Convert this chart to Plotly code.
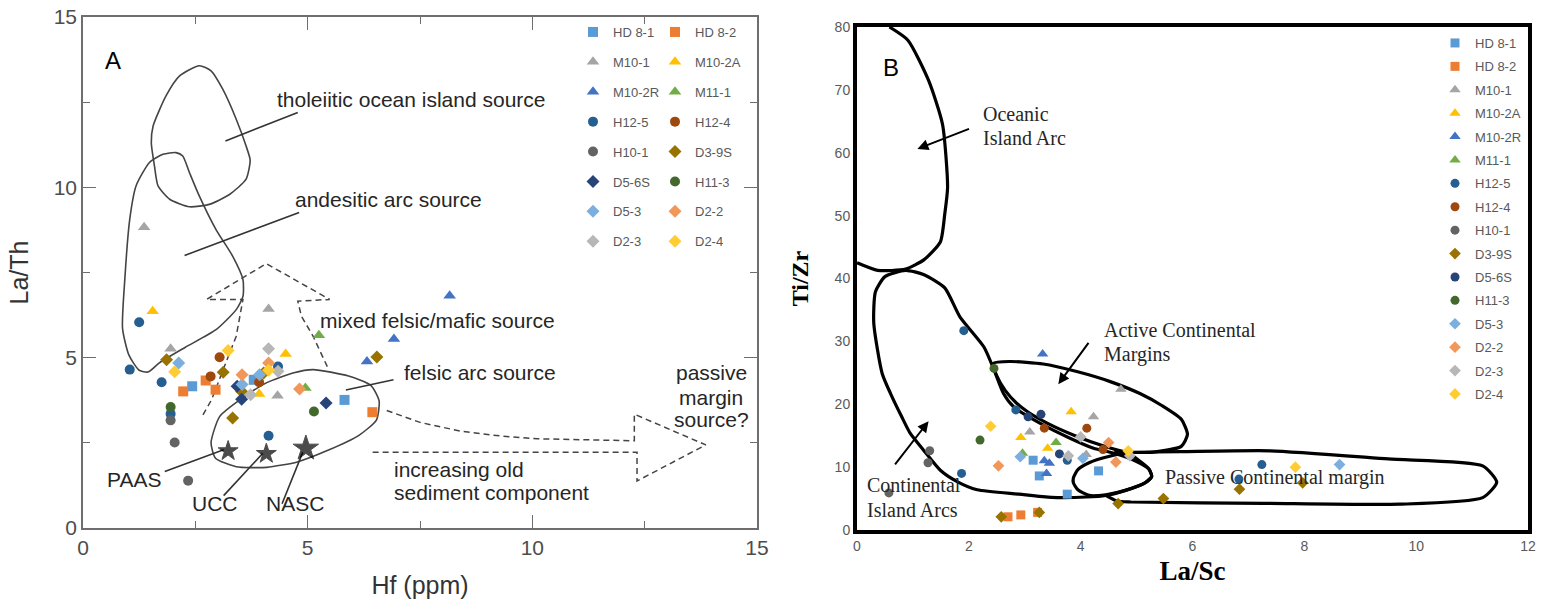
import plotly.graph_objects as go

W, H = 1549, 599

# ---- sample series (shared by both diagrams) ----
SERIES = ["HD 8-1", "HD 8-2", "M10-1", "M10-2A", "M10-2R", "M11-1", "H12-5", "H12-4",
          "H10-1", "D3-9S", "D5-6S", "H11-3", "D5-3", "D2-2", "D2-3", "D2-4"]
COLORS = ["#5B9BD5", "#ED7D31", "#A5A5A5", "#FFC000", "#4472C4", "#70AD47", "#255E91", "#9E480E",
          "#636363", "#997300", "#264478", "#43682B", "#7CAFDD", "#F1975A", "#B7B7B7", "#FFCD33"]
SYMBOLS_A = ["square", "square", "triangle-up", "triangle-up", "triangle-up", "triangle-up",
             "circle", "circle", "circle", "diamond", "diamond", "circle",
             "diamond", "diamond", "diamond", "diamond"]
SYMBOLS_B = ["square", "square", "triangle-up", "triangle-up", "triangle-up", "triangle-up",
             "circle", "circle", "circle", "diamond", "circle", "circle",
             "diamond", "diamond", "diamond", "diamond"]

# ---- diagram A: Hf (ppm) vs La/Th ----
a_sample = ["HD 8-1"] * 3 + ["HD 8-2"] * 4 + ["M10-1"] * 4 + ["M10-2A"] * 3 + ["M10-2R"] * 3 + \
           ["M11-1"] * 2 + ["H12-5"] * 6 + ["H12-4"] * 3 + ["H10-1"] * 3 + ["D3-9S"] * 6 + \
           ["D5-6S"] * 3 + ["H11-3"] * 2 + ["D5-3"] * 3 + ["D2-2"] * 3 + ["D2-3"] * 3 + ["D2-4"] * 3
a_hf = [2.43, 3.80, 5.82,
        2.23, 2.73, 2.95, 6.44,
        1.36, 1.95, 4.13, 4.33,
        1.55, 4.51, 3.92,
        8.16, 6.92, 6.32,
        5.25, 4.95,
        1.25, 1.04, 1.75, 1.95, 4.13, 4.34,
        3.04, 2.84, 3.92,
        1.95, 2.04, 2.34,
        1.86, 3.12, 4.02, 3.53, 3.33, 6.54,
        3.43, 3.53, 5.41,
        1.95, 5.14,
        2.13, 3.93, 3.54,
        4.13, 3.54, 4.82,
        4.13, 4.34, 3.73,
        2.04, 3.23, 4.13]
a_la_th = [4.16, 4.35, 3.76,
           4.01, 4.33, 4.06, 3.40,
           8.83, 5.26, 6.43, 3.88,
           6.36, 5.11, 3.93,
           6.82, 5.55, 4.89,
           5.66, 4.11,
           6.04, 4.65, 4.28, 3.35, 2.71, 4.74,
           5.01, 4.45, 4.28,
           3.16, 2.51, 1.39,
           4.94, 4.57, 4.55, 4.01, 3.23, 5.02,
           4.16, 3.78, 3.67,
           3.55, 3.42,
           4.84, 4.50, 4.21,
           4.84, 4.50, 4.08,
           5.26, 4.60, 3.91,
           4.59, 5.21, 4.63]

# reference compositions
ref_names = ["PAAS", "UCC", "NASC"]
ref_hf = [3.23, 4.08, 4.96]
ref_la_th = [2.26, 2.18, 2.34]

# source fields of diagram A
tholeiitic_hf = [2.59, 2.85, 3.11, 3.41, 3.63, 3.72, 3.63, 3.26, 2.81, 2.37, 1.93, 1.67, 1.59, 1.52, 1.56, 1.85, 2.15, 2.59]
tholeiitic_la_th = [13.57, 13.42, 12.88, 12.0, 11.21, 10.8, 10.24, 9.79, 9.5, 9.43, 9.65, 10.04, 10.63, 11.31, 11.8, 12.69, 13.27, 13.57]
andesitic_hf = [2.07, 2.22, 2.37, 2.59, 2.96, 3.33, 3.56, 3.56, 3.41, 2.96, 2.27, 1.7, 1.45, 1.25, 1.02, 0.88, 0.93, 1.04, 1.18, 1.48, 1.78, 2.07]
andesitic_la_th = [11.02, 10.92, 10.43, 9.74, 8.76, 7.98, 7.29, 6.8, 6.41, 5.82, 5.3, 4.85, 4.58, 4.63, 5.08, 5.86, 7.29, 9.06, 10.04, 10.73, 10.97, 11.02]
felsic_hf = [5.12, 5.91, 6.41, 6.59, 6.53, 6.14, 5.45, 4.77, 4.09, 3.41, 2.95, 2.85, 3.04, 3.49, 4.08, 4.67, 5.12]
felsic_la_th = [4.65, 4.46, 4.18, 3.73, 3.17, 2.72, 2.28, 1.94, 1.78, 1.8, 2.05, 2.5, 3.27, 3.76, 4.26, 4.55, 4.65]
mixed_arrow_hf = [2.67, 2.86, 3.12, 3.41, 3.56, 2.75, 4.08, 5.49, 4.78, 4.86, 5.12, 5.45]
mixed_arrow_la_th = [3.32, 3.76, 4.65, 5.63, 6.71, 6.71, 7.76, 6.71, 6.66, 6.22, 5.63, 4.70]
old_arrow_hf = [6.76, 7.5, 8.41, 9.3, 10.11, 11.2, 12.27, 12.27, 13.86, 12.33, 12.33, 6.36]
old_arrow_la_th = [3.45, 3.1, 2.84, 2.7, 2.62, 2.58, 2.56, 3.34, 2.44, 1.38, 2.22, 2.22]

# leader lines of diagram A (start, end)
leader_hf = [[3.17, 4.78], [2.26, 4.81], [5.85, 6.91], [1.82, 3.13], [3.13, 4.0], [4.43, 4.89]]
leader_la_th = [[11.36, 12.2], [8.0, 9.26], [4.05, 4.35], [1.66, 2.30], [0.95, 2.19], [0.71, 2.22]]

# ---- diagram B: La/Sc vs Ti/Zr ----
b_sample = ["HD 8-1"] * 4 + ["HD 8-2"] * 3 + ["M10-1"] * 4 + ["M10-2A"] * 3 + ["M10-2R"] * 4 + \
           ["M11-1"] * 2 + ["H12-5"] * 6 + ["H12-4"] * 3 + ["H10-1"] * 3 + ["D3-9S"] * 6 + \
           ["D5-6S"] * 3 + ["H11-3"] * 2 + ["D5-3"] * 3 + ["D2-2"] * 3 + ["D2-3"] * 3 + ["D2-4"] * 3
b_la_sc = [3.15, 3.26, 3.76, 4.32,
           2.70, 2.93, 3.23,
           4.72, 4.23, 3.09, 4.10,
           3.83, 2.93, 3.41,
           3.32, 3.35, 3.44, 3.39,
           3.56, 2.96,
           1.91, 2.84, 1.87, 3.76, 7.24, 6.83,
           3.35, 4.11, 4.40,
           1.30, 1.27, 0.57,
           2.58, 3.26, 4.67, 5.48, 6.84, 7.97,
           3.06, 3.29, 3.62,
           2.45, 2.20,
           2.92, 4.04, 8.63,
           2.53, 4.50, 4.63,
           4.00, 3.78, 4.88,
           2.39, 4.85, 7.84]
b_ti_zr = [11.1, 8.6, 5.7, 9.4,
           2.1, 2.4, 2.8,
           22.4, 18.0, 15.6, 12.0,
           18.8, 14.7, 13.0,
           28.0, 11.0, 10.6, 9.0,
           13.9, 12.2,
           31.7, 19.1, 9.0, 11.1, 10.4, 8.1,
           16.2, 16.2, 12.8,
           12.6, 10.7, 5.9,
           2.1, 2.8, 4.2, 5.0, 6.5, 7.5,
           18.0, 18.4, 12.1,
           25.7, 14.3,
           11.65, 11.4, 10.4,
           10.2, 13.9, 10.8,
           14.8, 11.8, 11.8,
           16.5, 12.6, 10.0]

# tectonic-setting fields of diagram B
oia_la_sc = [0.58, 0.91, 1.28, 1.53, 1.62, 1.57, 1.49, 1.20, 0.87, 0.37, 0.0]
oia_ti_zr = [80.0, 77.9, 71.5, 64.5, 54.5, 50.3, 45.8, 43.0, 41.5, 41.3, 42.5]
cia_la_sc = [0.33, 0.50, 0.87, 1.20, 1.57, 1.84, 2.27, 2.44, 2.62, 2.80, 3.27, 3.81, 4.23, 4.6, 5.0, 5.22,
             5.27, 5.15, 4.8, 4.45, 4.1, 3.48, 2.9, 2.15, 1.79, 1.49, 1.19, 0.95, 0.80, 0.60, 0.45, 0.30, 0.33]
cia_ti_zr = [37.9, 40.3, 41.3, 40.6, 38.5, 33.9, 29.1, 25.7, 21.7, 19.6, 17.0, 14.6, 13.0, 12.2, 10.9, 9.7,
             8.5, 7.5, 6.3, 5.5, 5.25, 5.2, 5.7, 6.4, 7.7, 9.5, 12.7, 15.4, 18.0, 21.7, 24.9, 32.9, 37.9]
acm_la_sc = [2.44, 2.74, 3.33, 3.93, 4.53, 5.06, 5.45, 5.80, 5.91, 5.80, 5.30, 4.81, 4.4, 3.9, 3.4, 3.05, 2.85, 2.65, 2.5, 2.44]
acm_ti_zr = [26.5, 26.8, 26.4, 25.2, 23.6, 21.7, 19.8, 17.6, 15.2, 13.3, 12.4, 12.4, 13.4, 15.0, 17.0, 18.8, 20.2, 22.2, 24.5, 26.5]
loop_la_sc = [3.87, 3.95, 4.15, 4.5, 4.85, 5.05, 5.22, 5.27, 5.15, 4.8, 4.45, 4.15, 3.95, 3.87, 3.87]
loop_ti_zr = [8.3, 9.6, 10.7, 11.7, 12.2, 11.0, 9.7, 8.5, 7.5, 6.3, 5.6, 5.5, 6.4, 7.5, 8.3]
pm_la_sc = [4.45, 4.65, 4.9, 7.27, 9.70, 11.19, 11.44, 11.19, 9.5, 7.39, 5.78, 4.88, 4.6]
pm_ti_zr = [5.5, 4.6, 4.45, 4.24, 4.1, 5.15, 7.6, 10.2, 11.3, 12.6, 12.45, 12.35, 12.3]

SANS = "Liberation Sans"
SERIF = "Liberation Serif"
TXT = "#262626"

fig = go.Figure()


def field(x, y, xa, ya, color, width, dash="solid", shape="spline"):
    fig.add_trace(go.Scatter(x=x, y=y, xaxis=xa, yaxis=ya, mode="lines",
                             line=dict(color=color, width=width, dash=dash, shape=shape, smoothing=0.6),
                             showlegend=False, hoverinfo="skip"))


# fields and arrows of A
field(tholeiitic_hf, tholeiitic_la_th, "x", "y", "#444", 1.6)
field(andesitic_hf, andesitic_la_th, "x", "y", "#444", 1.6)
field(felsic_hf, felsic_la_th, "x", "y", "#444", 1.6)
field(mixed_arrow_hf, mixed_arrow_la_th, "x", "y", "#444", 1.5, dash="6px,4px", shape="linear")
field(old_arrow_hf, old_arrow_la_th, "x", "y", "#444", 1.5, dash="6px,4px", shape="linear")
for lx, ly in zip(leader_hf, leader_la_th):
    field(lx, ly, "x", "y", "#333", 1.6, shape="linear")

# fields of B
for fx, fy in [(oia_la_sc, oia_ti_zr), (cia_la_sc, cia_ti_zr), (acm_la_sc, acm_ti_zr),
               (loop_la_sc, loop_ti_zr), (pm_la_sc, pm_ti_zr)]:
    field(fx, fy, "x2", "y2", "black", 3.2)

SIZES = {"square": 10, "triangle-up": 11, "circle": 10, "diamond": 10}

# sample points of A (legend split in two columns)
for i, name in enumerate(SERIES):
    xs = [v for s, v in zip(a_sample, a_hf) if s == name]
    ys = [v for s, v in zip(a_sample, a_la_th) if s == name]
    fig.add_trace(go.Scatter(
        x=xs, y=ys, xaxis="x", yaxis="y", mode="markers", name=name,
        legend="legend" if i % 2 == 0 else "legend2", legendgroup="A" + name,
        marker=dict(symbol=SYMBOLS_A[i], color=COLORS[i], size=SIZES[SYMBOLS_A[i]], line=dict(width=0))))

fig.add_trace(go.Scatter(x=ref_hf, y=ref_la_th, xaxis="x", yaxis="y", mode="markers",
                         text=ref_names, showlegend=False,
                         marker=dict(symbol="star", color="black", size=[15, 15, 19],
                                     line=dict(color="black", width=1))))

# sample points of B
for i, name in enumerate(SERIES):
    xs = [v for s, v in zip(b_sample, b_la_sc) if s == name]
    ys = [v for s, v in zip(b_sample, b_ti_zr) if s == name]
    fig.add_trace(go.Scatter(
        x=xs, y=ys, xaxis="x2", yaxis="y2", mode="markers", name=name,
        legend="legend3", legendgroup="B" + name,
        marker=dict(symbol=SYMBOLS_B[i], color=COLORS[i], size=SIZES[SYMBOLS_B[i]] - 1, line=dict(width=0))))

ann = []


def label(text, x, y, xref, yref, size, family, xanchor="center", color=TXT):
    ann.append(dict(text=text, x=x, y=y, xref=xref, yref=yref, showarrow=False,
                    xanchor=xanchor, yanchor="middle", font=dict(size=size, family=family, color=color)))


label("A", 0.66, 13.71, "x", "y", 24, SANS, color="black")
label("tholeiitic ocean island source", 7.31, 12.59, "x", "y", 21, SANS)
label("andesitic arc source", 6.80, 9.65, "x", "y", 21, SANS)
label("mixed felsic/mafic source", 7.88, 6.10, "x", "y", 21, SANS)
label("felsic arc source", 8.84, 4.56, "x", "y", 21, SANS)
label("passive", 13.98, 4.56, "x", "y", 21, SANS)
label("margin", 13.98, 3.84, "x", "y", 21, SANS)
label("source?", 13.98, 3.18, "x", "y", 21, SANS)
label("increasing old", 6.88, 1.72, "x", "y", 21, SANS, xanchor="left")
label("sediment component", 6.88, 1.04, "x", "y", 21, SANS, xanchor="left")
label("PAAS", 1.13, 1.41, "x", "y", 21, SANS)
label("UCC", 2.93, 0.73, "x", "y", 21, SANS)
label("NASC", 4.71, 0.73, "x", "y", 21, SANS)

label("B", 0.60, 73.6, "x2", "y2", 24, SANS, color="black")
label("Oceanic", 2.22, 66.1, "x2", "y2", 20, SERIF, xanchor="left")
label("Island Arc", 2.22, 62.3, "x2", "y2", 20, SERIF, xanchor="left")
label("Active Continental", 4.38, 31.8, "x2", "y2", 20, SERIF, xanchor="left")
label("Margins", 4.38, 27.9, "x2", "y2", 20, SERIF, xanchor="left")
label("Continental", 0.15, 7.15, "x2", "y2", 20, SERIF, xanchor="left")
label("Island Arcs", 0.15, 3.2, "x2", "y2", 20, SERIF, xanchor="left")
label("Passive Continental margin", 5.47, 8.36, "x2", "y2", 20, SERIF, xanchor="left")

for (tx, ty, hx, hy) in [(2.03, 63.9, 1.08, 60.6), (4.16, 30.0, 3.60, 23.2), (0.66, 10.2, 1.28, 17.3)]:
    ann.append(dict(x=hx, y=hy, ax=tx, ay=ty, xref="x2", yref="y2", axref="x2", ayref="y2",
                    showarrow=True, arrowhead=2, arrowsize=1.1, arrowwidth=2, arrowcolor="black", text=""))

axA = dict(showline=True, linecolor="#6e6e6e", linewidth=1.5, mirror="ticks", ticks="inside",
           ticklen=13, tickwidth=1.3, tickcolor="#6e6e6e", showgrid=False, zeroline=False,
           automargin=False, tickfont=dict(size=21, family=SANS, color="#4d4d4d"),
           minor=dict(dtick=2.5, ticklen=7, ticks="inside", tickcolor="#6e6e6e", tickwidth=1.3))
axB = dict(showline=True, linecolor="black", linewidth=4, mirror=True, ticks="", showgrid=False,
           zeroline=False, automargin=False, tickfont=dict(size=14, family=SANS, color="#595959"))

legend_common = dict(xanchor="left", yanchor="top", bgcolor="rgba(0,0,0,0)",
                     font=dict(size=13, family=SANS, color="#595959"))

fig.update_layout(
    width=W, height=H, margin=dict(l=0, r=0, t=0, b=0, pad=0, autoexpand=False),
    paper_bgcolor="white", plot_bgcolor="white",
    xaxis=dict(domain=[83 / W, 757 / W], range=[0, 15], tick0=0, dtick=5, anchor="y",
               title=dict(text="Hf (ppm)", standoff=20, font=dict(size=25, family=SANS, color="#333")), **axA),
    yaxis=dict(domain=[(H - 528) / H, (H - 17) / H], range=[0, 15], tick0=0, dtick=5, anchor="x",
               title=dict(text="La/Th", standoff=18, font=dict(size=25, family=SANS, color="#333")), **axA),
    xaxis2=dict(domain=[857 / W, 1528 / W], range=[0, 12], dtick=2, anchor="y2",
                title=dict(text="<b>La/Sc</b>", standoff=9, font=dict(size=27, family=SERIF, color="black")), **axB),
    yaxis2=dict(domain=[(H - 530) / H, (H - 27) / H], range=[0, 80], dtick=10, anchor="x2",
                title=dict(text="<b>Ti/Zr</b>", standoff=20, font=dict(size=24, family=SERIF, color="black")), **axB),
    legend=dict(x=(593 - 20) / W, y=(H - 17) / H, tracegroupgap=10, **legend_common),
    legend2=dict(x=(675 - 20) / W, y=(H - 17) / H, tracegroupgap=10, **legend_common),
    legend3=dict(x=(1455 - 20) / W, y=(H - 28) / H, tracegroupgap=3.5, **legend_common),
    annotations=ann,
)

fig.write_html("out.html")
